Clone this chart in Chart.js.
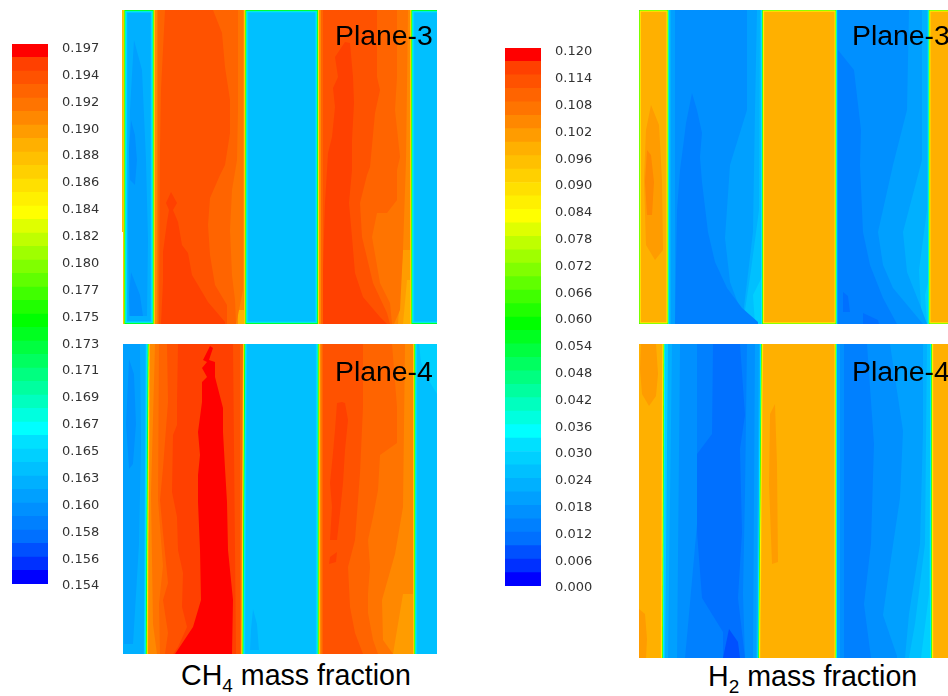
<!DOCTYPE html>
<html>
<head>
<meta charset="utf-8">
<script src="https://cdn.jsdelivr.net/npm/chart.js@4/dist/chart.umd.min.js"></script>
<style>
html,body{margin:0;padding:0;background:#fff;overflow:hidden;width:948px;height:696px}
canvas{position:absolute;display:block}
canvas.plane-map{filter:blur(.45px)}
.lbl{position:absolute;font-family:"Liberation Sans",Arial,sans-serif;color:#000;white-space:nowrap;line-height:32px}
.plane{font-size:28.4px}
.ttl{font-size:28.6px}
.ttl sub{font-size:19px;line-height:0;vertical-align:-7px}
</style>
</head>
<body>
<div class="lbl plane" style="left:335px;top:19px">Plane-3</div>
<div class="lbl plane" style="left:335px;top:355px">Plane-4</div>
<div class="lbl plane" style="left:852px;top:19px">Plane-3</div>
<div class="lbl plane" style="left:852px;top:355px">Plane-4</div>
<div class="lbl ttl" style="left:181px;top:659px">CH<sub>4</sub> mass fraction</div>
<div class="lbl ttl" style="left:708px;top:660px">H<sub>2</sub> mass fraction</div>
<script>
// --- Colour levels (bottom to top of the legend) ---
const levelColors = ['#0000ff','#0030ff','#0050ff','#0070ff','#0080ff','#0090ff','#00a0ff','#00b0ff','#00c0ff','#00d0ff','#00e0ff','#00ffff','#00ffdf','#00ffbf','#00ff9f','#00ff80','#00ff60','#00ff40','#00ff20','#00ff00','#20ff00','#40ff00','#60ff00','#80ff00','#9fff00','#bfff00','#dfff00','#ffff00','#fff000','#ffe000','#ffd000','#ffc000','#ffb000','#ff9c00','#ff8800','#ff7400','#ff6400','#ff5200','#ff4000','#ff0000'];

// --- Legends ---
const ch4Edges = [.15400,.15508,.15615,.15723,.15830,.15938,.16045,.16153,.16260,.16368,.16475,.16583,.16690,.16798,.16905,.17013,.17120,.17228,.17335,.17443,.17550,.17658,.17765,.17873,.17980,.18088,.18195,.18303,.18410,.18518,.18625,.18733,.18840,.18948,.19055,.19163,.19270,.19378,.19485,.19593,.19700];
const ch4Ticks = ['0.154','0.156','0.158','0.160','0.163','0.165','0.167','0.169','0.171','0.173','0.175','0.177','0.180','0.182','0.184','0.186','0.188','0.190','0.192','0.194','0.197'];
const h2Edges = [0,.003,.006,.009,.012,.015,.018,.021,.024,.027,.030,.033,.036,.039,.042,.045,.048,.051,.054,.057,.060,.063,.066,.069,.072,.075,.078,.081,.084,.087,.090,.093,.096,.099,.102,.105,.108,.111,.114,.117,.120];
const h2Ticks = ['0.000','0.006','0.012','0.018','0.024','0.030','0.036','0.042','0.048','0.054','0.060','0.066','0.072','0.078','0.084','0.090','0.096','0.102','0.108','0.114','0.120'];

// --- Wall profiles: outer level first, going into the channel ---
const ch4Wall = [.1890,.1836,.1750,.1686,.1654,.1643];
const h2Wall = [.0345,.0600,.0810,.0915];

// --- Contours: [value, x0,x1,y0,y1] or [value, x,y, x,y, ...], along the plane ---
const ch4Plane3Regions = [
  [.1879,0,1.2,0,222],
  [.1911,33,123,0,314],
  [.1890,116,123,300,314],
  [.1922,35,0,121,0,121,280,116,305,114,314,35,314],
  [.1933,36,0,116,0,116,100,115,150,110,180,108,220,110,265,113,290,114,314,36,314],
  [.1943,43,0,91,0,100,23,103,57,108,90,108,123,103,155,98,165,88,188,86,215,88,245,93,275,105,295,105,314,37,314,38,140,39,80],
  [.1954,49,182,55,193,51,200,56,212,60,235,66,243,70,265,76,275,86,292,103,312,103,314,39,314,41,272,41,242,45,212,47,200,44,193],
  [.1911,197,290,0,314],
  [.1900,281,240,290,240,290,314,276,314],
  [.1890,285,270,290,270,290,314,281,314],
  [.1922,199,0,286,0,284,150,281,240,278,300,272,314,199,314],
  [.1933,199,0,275,0,275,67,273,100,278,147,275,160,275,190,265,203,255,203,250,227,258,273,268,293,270,314,199,314],
  [.1943,201,0,255,0,255,67,258,80,253,103,248,157,245,165,238,193,240,227,251,273,265,303,268,314,201,314],
  [.1954,223,32,228,33,231,67,232,93,230,130,230,160,227,193,230,227,233,263,241,287,258,307,265,314,200,314,201,260,203,193,205,160,206,143,210,127,213,97,211,78,216,67,213,47]
];
const ch4Plane3Channels = [[.1621,1,33,1,33],[.1632,122,197.3,122,197.3],[.1632,288,340,288,340]];
const ch4Plane3Details = [
  [.1611,12,30,20,60,24,150,26,230,25,306,7,306,6,200,8,100],
  [.1600,9,110,13,125,15,150,13,175,8,170,7,140],
  [.1600,9,262,18,285,21,306,8,306,7,285]
];

const ch4Plane4Regions = [
  [.1911,24,122,0,310],
  [.1922,32,0,122,0,122,310,34,310,30,280,28,150],
  [.1933,36,0,120,0,118,310,37,310,36,260,40,222,35,156],
  [.1943,44,0,117,0,117,310,42,310,45,289,40,256,45,239,40,189,37,156,40,124,45,58],
  [.1954,55,0,110,0,113,310,50,310,55,303,64,283,59,263,60,229,55,206,54,173,49,148,50,91,54,81,54,58],
  [.1965,87,2,90,4,86,16,92,18,92,33,100,64,100,88,102,124,104,158,105,206,110,256,109,310,52,310,70,283,78,256,77,206,75,158,75,131,77,111,75,88,79,58,79,38,84,33,79,24,84,18,80,16],
  [.1911,196,291,0,310],
  [.1900,280,250,291,250,291,310,270,310],
  [.1922,198,0,282,0,280,163,272,210,259,256,260,296,270,310,198,310],
  [.1933,199,0,269,0,274,63,274,99,257,111,255,146,250,173,245,196,247,223,245,249,245,269,250,296,255,310,199,310],
  [.1943,200,0,240,0,240,63,237,129,232,196,225,223,227,263,232,289,240,310,200,310],
  [.1954,219,58,222,59,225,76,222,106,220,139,217,169,214,196,207,196,209,163,207,139,210,109,212,86,214,59],
  [.1954,207,213,214,208,213,218,206,220]
];
const ch4Plane4Channels = [[.1621,-10,27,-10,25],[.1632,120,197,118,197],[.1632,290,340,290,340]];
const ch4Plane4Details = [
  [.1611,0,0,17,0,18,100,16,200,10,300,1,300,0,150],
  [.1600,6,15,11,30,13,80,10,120,6,125,3,80],
  [.1643,296,0,314,0,314,50,305,35,298,18],
  [.1621,130,265,134,280,136,306,127,306,128,285]
];

const h2Plane3Regions = [
  [.0255,29,125,0,314],
  [.0285,114,285,124,265,124,314,116,314],
  [.0225,31,0,121,0,120,200,112,260,106,300,110,314,31,314],
  [.0195,32,0,118,0,116,100,114,222,108,272,104,305,108,314,32,314],
  [.0165,36,0,108,0,108,100,91,155,86,228,91,272,106,312,106,314,36,314],
  [.0135,53,83,58,100,63,123,61,147,63,172,69,222,76,252,88,278,103,298,119,312,119,314,36,314,38,200,41,160,44,137,47,113],
  [.0255,196,293,0,314],
  [.0285,286,285,292,260,292,314,288,314],
  [.0225,198,0,288,0,288,200,280,260,282,300,288,314,198,314],
  [.0195,198,0,283,0,283,150,264,222,268,262,281,295,288,314,198,314],
  [.0165,199,0,270,0,268,100,254,155,239,222,244,255,254,278,274,302,284,314,199,314],
  [.0135,199,40,215,60,222,120,221,155,224,222,231,255,244,288,258,314,199,314],
  [.0105,204,282,209,286,211,302,204,302],
  [.0105,224,303,239,310,240,314,224,314]
];
const h2Plane3Channels = [[.0975,-.8,30,-.8,30],[.0975,122.5,198,122.5,198],[.0975,289,340,289,340]];
const h2Plane3Details = [
  [.1005,12,95,20,115,23,170,24,240,16,250,7,235,5,170,7,120],
  [.1035,8,140,12,145,15,172,13,205,8,205,6,172]
];

const h2Plane4Regions = [
  [.0285,24,124,0,314],
  [.0225,29,0,122,0,120,314,26,314],
  [.0195,33,0,120,0,117,314,29,314],
  [.0165,41,0,116,0,114,314,38,314],
  [.0135,58,0,108,0,106,150,104,250,106,314,46,314,50,270,58,180],
  [.0105,74,0,101,0,106,71,101,105,103,188,99,254,106,314,84,314,84,288,63,254,58,188,58,110,73,90],
  [.0075,90,285,99,298,101,314,84,314],
  [.0285,195,295,0,314],
  [.0255,196,0,292,0,290,250,282,314,196,314],
  [.0225,197,0,288,0,286,200,276,280,270,314,197,314],
  [.0195,198,0,284,0,284,87,281,200,270,270,266,314,198,314],
  [.0165,201,0,251,0,264,87,261,154,251,221,244,271,258,312,258,314,201,314],
  [.0135,205,0,228,0,235,100,232,200,225,260,232,314,205,314]
];
const h2Plane4Channels = [[.0975,-10,26,-10,24.5],[.0975,121.5,198,118.5,198],[.0975,291.5,340,291.5,340]];
const h2Plane4Details = [
  [.1005,2,0,17,0,19,30,17,52,10,62,3,50,1,25],
  [.1005,0,265,6,270,8,295,7,314,0,314],
  [.1005,131,70,136,60,138,120,139,218,133,220,130,140]
];

// --- Helpers ---
function addCanvas(left, top, w, h, cls){
  const c = document.createElement('canvas');
  c.width = w; c.height = h;
  if(cls) c.className = cls;
  c.style.cssText = `left:${left}px;top:${top}px;width:${w}px;height:${h}px`;
  document.body.appendChild(c);
  return c;
}

function colorOf(v, edges){
  const lo = edges[0], hi = edges[edges.length-1];
  let i = Math.floor((v-lo)/(hi-lo)*40);
  i = Math.max(0, Math.min(39, i));
  return levelColors[i];
}

function toPoints(r){
  if(r.length==5) return [{x:r[1],y:r[3]},{x:r[2],y:r[3]},{x:r[2],y:r[4]},{x:r[1],y:r[4]}];
  const pts = [];
  for(let i=1;i<r.length;i+=2) pts.push({x:r[i],y:r[i+1]});
  return pts;
}

function shape(v, pts, edges){
  return {data:pts, showLine:true, fill:'shape', borderWidth:0, pointRadius:0, backgroundColor:colorOf(v,edges), borderColor:'transparent'};
}

// --- One contour plane ---
function drawPlane(p){
  const sets = [];
  p.regions.forEach(r=>sets.push(shape(r[0],toPoints(r),p.edges)));
  p.channels.forEach(ch=>{
    const levels = p.wall.concat([ch[0]]);
    levels.forEach((v,i)=>{
      const s = i*.7;
      sets.push(shape(v,[
        {x:ch[1]+s,y:p.yTop+s},{x:ch[2]-s,y:p.yTop+s},
        {x:ch[4]-s,y:p.yBot-s},{x:ch[3]+s,y:p.yBot-s}
      ],p.edges));
    });
  });
  p.details.forEach(r=>sets.push(shape(r[0],toPoints(r),p.edges)));
  // chart.js paints dataset 0 last
  sets.reverse();
  new Chart(addCanvas(p.left,p.top,p.w,p.h,'plane-map'),{
    type:'scatter',
    data:{datasets:sets},
    options:{
      responsive:false, animation:false, events:[],
      layout:{padding:0},
      plugins:{legend:{display:false},tooltip:{enabled:false}},
      scales:{
        x:{type:'linear',display:false,min:0,max:p.w},
        y:{type:'linear',display:false,reverse:true,min:0,max:p.h}
      }
    }
  });
}

// --- Colour legend ---
function drawLegend(left, barTop, barBottom, edges, ticks, tickTop, tickBottom){
  const sets = levelColors.map((c,i)=>({data:[[edges[i],edges[i+1]]],backgroundColor:c,grouped:false,barPercentage:1,categoryPercentage:1}));
  const lo = edges[0], hi = edges[edges.length-1];
  const perPx = (hi-lo)/(barBottom-barTop);
  new Chart(addCanvas(left,barTop-14,96,barBottom-barTop+30),{
    type:'bar',
    data:{labels:[''],datasets:sets},
    options:{
      responsive:false, animation:false, events:[],
      layout:{padding:{top:14,bottom:16,left:0,right:0}},
      plugins:{legend:{display:false},tooltip:{enabled:false}},
      scales:{
        x:{display:false},
        y:{
          position:'right',min:lo,max:hi,
          grid:{display:false,drawTicks:false},border:{display:false},
          afterBuildTicks:s=>{
            const a = lo-(tickBottom-barBottom)*perPx, b = hi-(tickTop-barTop)*perPx;
            s.ticks = ticks.map((t,i)=>({value:a+i*(b-a)/(ticks.length-1)}));
          },
          afterFit:s=>{s.width = 60; s.paddingTop = 0; s.paddingBottom = 0;},
          ticks:{
            autoSkip:false,padding:14,color:'#333',
            font:{family:'"DejaVu Sans"',size:13},
            callback:(v,i)=>ticks[i]
          }
        }
      }
    }
  });
}

drawPlane({left:122,top:10,w:315,h:314,edges:ch4Edges,wall:ch4Wall,yTop:-1.4,yBot:315.4,regions:ch4Plane3Regions,channels:ch4Plane3Channels,details:ch4Plane3Details});
drawPlane({left:123,top:344,w:314,h:310,edges:ch4Edges,wall:ch4Wall,yTop:-10,yBot:320,regions:ch4Plane4Regions,channels:ch4Plane4Channels,details:ch4Plane4Details});
drawPlane({left:639,top:10,w:309,h:314,edges:h2Edges,wall:h2Wall,yTop:-.8,yBot:314.8,regions:h2Plane3Regions,channels:h2Plane3Channels,details:h2Plane3Details});
drawPlane({left:639,top:344,w:309,h:314,edges:h2Edges,wall:h2Wall,yTop:-10,yBot:324,regions:h2Plane4Regions,channels:h2Plane4Channels,details:h2Plane4Details});
drawLegend(12,44,584,ch4Edges,ch4Ticks,48.5,586);
drawLegend(505,48,586,h2Edges,h2Ticks,52,588);

// labels stay above the planes
document.querySelectorAll('.lbl').forEach(l=>{l.style.zIndex=2;});
</script>
</body>
</html>
